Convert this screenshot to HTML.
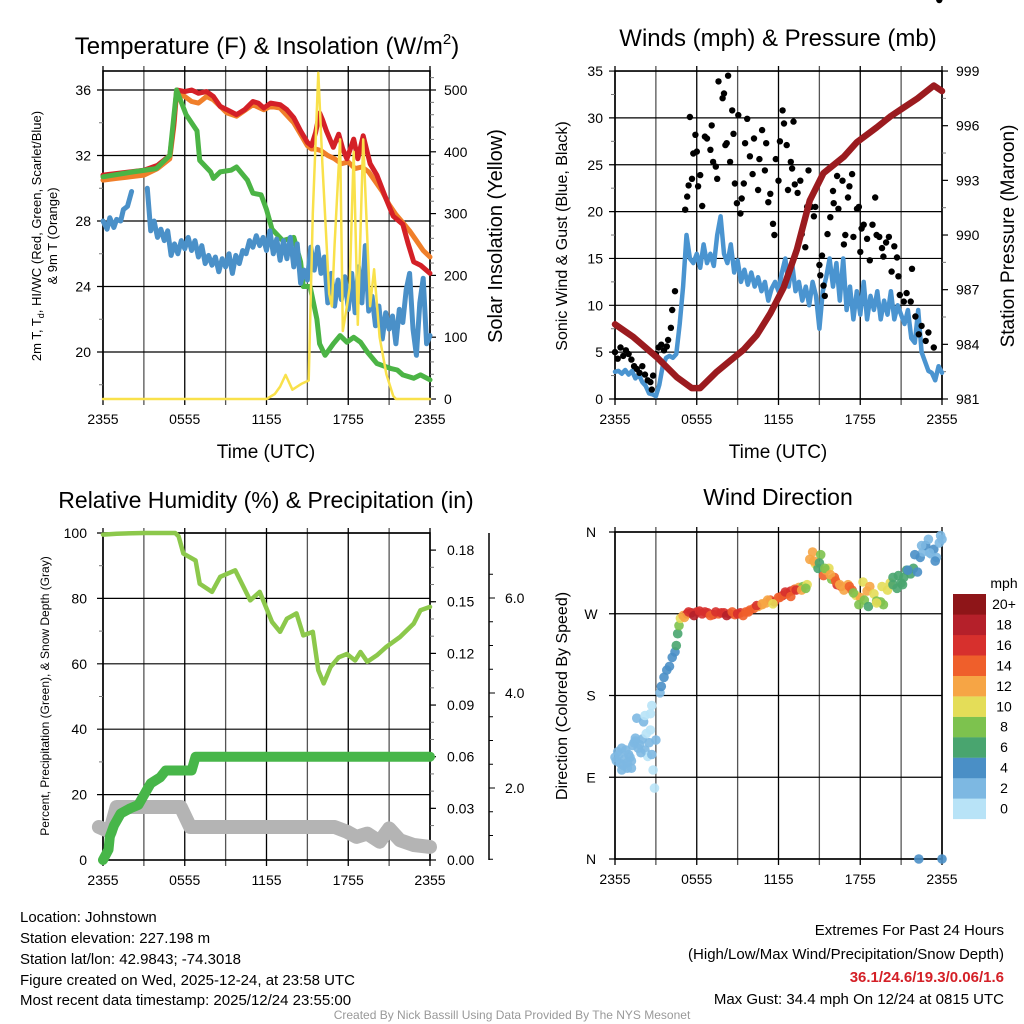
<!DOCTYPE html>
<html><head><meta charset="utf-8"><style>
html,body{margin:0;padding:0;background:#fff}
svg{display:block;font-family:"Liberation Sans",Arial,sans-serif}
</style></head><body>
<svg id="chart" width="1024" height="1024" viewBox="0 0 1024 1024">
<rect width="1024" height="1024" fill="#fff"/>
<g id="layer"></g>
<text x="267" y="54" font-size="24" text-anchor="middle">Temperature (F) &amp; Insolation (W/m<tspan font-size="15" dy="-10">2</tspan><tspan dy="10">)</tspan></text>
<text x="778" y="46" font-size="24" text-anchor="middle">Winds (mph) &amp; Pressure (mb)</text>
<text x="266" y="508" font-size="23" text-anchor="middle">Relative Humidity (%) &amp; Precipitation (in)</text>
<text x="778" y="505" font-size="23" text-anchor="middle">Wind Direction</text>
<text x="266" y="458" font-size="19" text-anchor="middle">Time (UTC)</text>
<text x="778" y="458" font-size="19" text-anchor="middle">Time (UTC)</text>
<text transform="translate(41,236) rotate(-90)" font-size="13" text-anchor="middle">2m T, T<tspan font-size="9" dy="3">d</tspan><tspan dy="-3">, HI/WC (Red, Green, Scarlet/Blue)</tspan></text>
<text transform="translate(57,236) rotate(-90)" font-size="13" text-anchor="middle">&amp; 9m T (Orange)</text>
<text transform="translate(502,236) rotate(-90)" font-size="20" text-anchor="middle">Solar Insolation (Yellow)</text>
<text transform="translate(567,236) rotate(-90)" font-size="16" text-anchor="middle">Sonic Wind &amp; Gust (Blue, Black)</text>
<text transform="translate(1014,236) rotate(-90)" font-size="19" text-anchor="middle">Station Pressure (Maroon)</text>
<text transform="translate(49,696) rotate(-90)" font-size="12" text-anchor="middle">Percent, Precipitation (Green), &amp; Snow Depth (Gray)</text>
<text transform="translate(567,696) rotate(-90)" font-size="16" text-anchor="middle">Direction (Colored By Speed)</text>
<text x="1004" y="588" font-size="14" text-anchor="middle">mph</text>
<g font-size="15">
<text x="20" y="922">Location: Johnstown</text>
<text x="20" y="943">Station elevation: 227.198 m</text>
<text x="20" y="964">Station lat/lon: 42.9843; -74.3018</text>
<text x="20" y="985">Figure created on Wed, 2025-12-24, at 23:58 UTC</text>
<text x="20" y="1005">Most recent data timestamp: 2025/12/24 23:55:00</text>
</g>
<g font-size="15" text-anchor="end">
<text x="1004" y="935">Extremes For Past 24 Hours</text>
<text x="1004" y="959">(High/Low/Max Wind/Precipitation/Snow Depth)</text>
<text x="1004" y="982" fill="#d42027" font-weight="bold">36.1/24.6/19.3/0.06/1.6</text>
<text x="1004" y="1004">Max Gust: 34.4 mph On 12/24 at 0815 UTC</text>
</g>
<text x="512" y="1019" font-size="12" fill="#999" text-anchor="middle">Created By Nick Bassill Using Data Provided By The NYS Mesonet</text>
</svg>
<script>
// ---------- data ----------
const xTickLabels = ["2355","0555","1155","1755","2355"];
// Panel 1 temperature (F), times in hours after 2355
const tRed = [0,1,2,3,4,4.9,5.2,5.4,6,6.5,7,7.6,8.1,8.6,9.1,9.8,10.4,11.0,11.4,11.8,12.3,13.0,13.5,14.0,14.5,15.0,15.3,15.6,15.9,16.1,16.4,16.9,17.3,17.6,17.9,18.4,18.7,19.1,19.6,20.1,20.8,21.3,22.0,22.4,22.8,23.3,24];
const red  = [30.8,30.9,31.0,31.1,31.4,32.0,34.0,36.0,35.9,36.0,35.8,35.9,35.6,35.0,34.8,34.5,34.8,35.3,35.2,34.9,35.2,35.1,34.8,34.3,33.5,32.8,32.6,33.4,34.6,34.2,33.5,32.5,33.3,32.4,31.8,33.0,31.8,33.2,31.5,30.8,29.3,28.3,27.8,26.6,25.5,25.3,24.8];
const tOrange = [0,1,2,3,4,4.9,5.2,5.4,6,6.5,7,7.6,8.1,9.1,9.8,11.0,11.8,12.3,13.0,14.0,15.0,15.3,15.6,16.0,16.5,17.0,17.5,18.0,18.5,19.0,19.5,20.0,20.5,21.0,21.5,22.0,22.5,23.0,23.5,24];
const orange  = [30.5,30.6,30.7,30.8,31.2,31.8,33.8,35.8,35.6,35.3,35.2,35.6,35.4,34.6,34.4,35.1,34.8,35.0,34.9,34.0,32.6,32.4,32.4,32.3,32.0,31.8,31.5,31.6,31.2,31.3,31.0,30.4,29.8,29.0,28.4,27.9,27.4,26.8,26.2,25.8];
const tGreen = [0,2.2,3.9,4.9,5.4,6.1,6.9,7.1,7.9,8.1,8.6,9.4,9.8,10.6,11.0,11.6,12.0,12.4,13.2,14.0,14.5,14.7,15.2,15.7,15.9,16.3,16.9,17.4,17.9,18.4,18.9,19.4,20.1,21.1,21.6,22.0,22.8,23.3,24];
const green  = [30.7,31.0,31.2,32.0,36.0,34.5,33.5,31.7,31.0,30.6,31.0,31.1,31.3,30.5,29.7,29.6,28.7,27.5,26.8,27.0,25.5,24.0,24.0,22.0,20.5,19.8,20.5,21.0,20.6,20.9,20.6,20.0,19.3,19.0,18.9,18.6,18.4,18.6,18.3];
const tBlueA = [0,0.3,0.5,0.8,1,1.3,1.5,1.8,2.1];
const blueA  = [28.0,27.5,28.2,27.6,28.1,28.0,28.7,28.9,29.8];
const tBlueB = [3.25,3.5,3.75,4,4.25,4.5,4.75,5,5.25,5.5,5.75,6,6.25,6.5,6.75,7,7.25,7.5,7.75,8,8.25,8.5,8.75,9,9.25,9.5,9.75,10,10.25,10.5,10.75,11,11.25,11.5,11.75,12,12.25,12.5,12.75,13,13.25,13.5,13.75,14,14.25,14.5,14.75,15,15.25,15.5,15.75,16,16.25,16.5,16.75,17,17.25,17.5,17.75,18,18.25,18.5,18.75,19,19.25,19.5,19.75,20,20.25,20.5,20.75,21,21.25,21.5,21.75,22,22.25,22.5,22.75,23,23.25,23.5,23.75,24];
const blueB  = [30.0,27.4,28.0,27.0,27.5,26.8,27.4,25.9,26.6,26.0,26.8,26.3,27.0,26.2,26.8,25.8,26.5,25.4,25.9,25.3,25.8,24.9,25.7,25.2,26.0,24.8,25.9,25.4,26.2,26.0,26.8,26.4,27.1,26.5,27.0,26.2,27.4,26.0,26.9,25.6,26.8,25.7,27.0,25.2,26.6,24.2,25.0,24.4,26.4,25.0,26.4,24.8,25.8,23.0,24.8,22.8,24.4,23.2,24.6,22.6,24.8,22.4,25.2,23.0,26.5,22.5,23.4,21.6,22.8,20.8,22.4,21.4,22.2,20.5,22.6,21.8,23.8,24.8,21.4,19.8,23.0,24.5,20.5,21.0];
const tSolar = [0,12.0,12.6,13.0,13.4,13.9,14.6,15.1,15.4,15.8,16.1,16.6,16.8,17.0,17.4,17.6,17.9,18.1,18.4,18.7,19.1,19.6,19.9,20.3,20.8,21.3,21.5,24];
const solar  = [0,0,8,20,39,15,25,30,300,528,380,170,150,250,420,110,150,180,400,120,420,150,210,100,40,5,0,0];
// Panel 2 winds (mph) and pressure (mb)
const tSonic = [0,0.25,0.5,0.75,1,1.25,1.5,1.75,2,2.25,2.5,2.75,3,3.25,3.5,3.75,4,4.25,4.5,4.75,5,5.25,5.5,5.75,6,6.25,6.5,6.75,7,7.25,7.5,7.75,8,8.25,8.5,8.75,9,9.25,9.5,9.75,10,10.25,10.5,10.75,11,11.25,11.5,11.75,12,12.25,12.5,12.75,13,13.25,13.5,13.75,14,14.25,14.5,14.75,15,15.25,15.5,15.75,16,16.25,16.5,16.75,17,17.25,17.5,17.75,18,18.25,18.5,18.75,19,19.25,19.5,19.75,20,20.25,20.5,20.75,21,21.25,21.5,21.75,22,22.25,22.5,22.75,23,23.25,23.5,23.75,24];
const sonic  = [2.9,3.0,2.7,3.1,2.6,3.0,2.2,2.6,1.8,1.4,0.6,0.5,0.3,1.5,3.5,4.4,4.6,4.4,4.8,8,12,17.5,15,14.5,15.5,14,16.5,14.5,15.5,14.2,17.5,19.5,15.5,14.5,16.5,13.5,14.8,12.5,13.8,12.2,13.5,12,13,11.5,12.5,10.5,11.8,12.5,11.5,13.5,15,12,14.5,11.5,12.5,10.5,12,10,12.5,11,7.5,11.5,13,15,12,14.5,10.5,15,9.5,12,8.5,11.5,9,12.5,8.5,11,9.5,11.5,8.5,10.5,9,11.5,8.5,10,9,8,9.5,6.5,6,9.5,5,4,3,2.8,2,3.5,2.8];
const tGust = [0,0.2,0.4,0.6,0.8,1.0,1.2,1.4,1.6,1.8,2.0,2.2,2.4,2.6,2.7,2.8,3.0,3.2,3.4,3.6,3.8,3.9,4.1,4.2,4.4,5.15,5.3,5.4,5.5,5.65,5.75,5.9,6.0,6.1,6.25,6.4,6.6,6.75,7,7.1,7.2,7.4,7.5,7.6,7.9,8.0,8.1,8.2,8.3,8.45,8.6,8.7,8.8,8.95,9.05,9.2,9.3,9.45,9.55,9.7,9.9,10.1,10.2,10.5,10.6,10.8,11.0,11.1,11.25,11.4,11.6,11.7,11.8,12.0,12.1,12.3,12.4,12.6,12.7,12.9,13.0,13.1,13.2,13.4,13.6,13.7,13.97,14.1,14.2,14.4,14.6,14.7,15.0,15.07,15.19,15.3,15.4,15.6,15.8,16.0,16.05,16.3,16.4,16.7,16.8,16.9,17.1,17.2,17.4,17.5,17.76,17.9,18.0,18.1,18.25,18.5,18.7,18.9,19.1,19.2,19.4,19.6,19.7,19.9,20.1,20.3,20.5,20.7,20.8,20.9,21.2,21.4,21.7,21.8,22.05,22.3,22.5,22.8,23.0,23.4,23.8];
const gust  = [5,4.3,5.5,4.6,5.2,4.8,4.2,3.5,3.2,2.8,3.5,2.6,2.0,1.8,1.0,2.5,4.8,5.5,5.8,5.2,5.6,6.3,7.6,9.5,11.5,20.2,21.6,22.8,30.1,23.5,26.2,28.2,26.4,22.7,23.9,20.6,28,27.8,26.6,29.2,25.3,24.8,23.5,33.9,32.1,32.6,27.1,27.3,34.5,25.3,30.8,28.3,23,20.9,30.3,19.8,21.4,23,27.3,29.9,25.9,24,27.8,22.3,25.6,28.7,24.4,27.3,21,21.9,18.7,17.5,25.6,23.3,27.5,30.8,29.4,27.1,22.3,25.3,24.6,29.6,22.9,22,23.3,17.6,16.2,20.5,24.4,20.5,19.5,20.5,14.3,13.2,15.3,12.1,11.0,17.6,19.4,22.2,20.9,23.8,20.3,23.3,16.5,17.5,21.5,22.7,24,17.3,20.3,20.5,15.7,18.2,18.6,17.1,14.8,18.6,21.5,17.5,17.3,16.1,15.2,16.7,17.3,13.6,16.3,15.1,13.1,11.1,10.4,11.3,10.4,13.9,8.8,6.9,7.8,6.2,7.1,5.5];
const tPress = [0,1.35,3.06,4.53,5.64,6.25,7.47,8.45,9.43,10.4,11.4,12.37,13.35,14.3,15.3,16.8,17.76,19.2,20.2,21.2,22.2,23.4,24];
const press  = [985.1,984.4,983.3,982.2,981.6,981.6,982.5,983.1,983.7,984.5,985.7,987.1,989.2,991.9,993.4,994.3,995.1,995.9,996.5,997.0,997.5,998.2,997.9];
// Panel 3 humidity (%), precipitation (in), snow depth (in)
const tRH = [0,1,3,5.3,5.55,5.9,6.8,7.1,8.0,8.6,9.7,10.8,11.5,12.4,13.0,13.5,14.2,14.7,15.4,15.8,16.2,16.7,17.3,17.9,18.5,18.9,19.4,20.1,20.8,21.8,22.8,23.3,24];
const rh  = [99.5,99.8,100,100,99,93.7,91.6,84.5,82,86.6,88.6,79.4,82,72.8,69.8,73.8,75.4,68.7,69.8,58,54,59,62,63,61,63.6,60.6,62.6,65.2,68.2,72.3,76.4,77.4];
const tPrecip = [0,0.4,0.5,0.8,1.3,2.0,2.6,3.1,3.5,4.2,4.6,5.7,6.5,6.8,24];
const precip  = [0,0.006,0.0135,0.020,0.027,0.030,0.032,0.039,0.0445,0.048,0.052,0.052,0.052,0.06,0.06];
const tSnow = [-0.3,0.5,1.0,5.7,6.4,17.0,17.9,18.6,19.4,20.3,21.0,21.8,22.8,24];
const snow  = [1.18,1.08,1.6,1.6,1.18,1.18,1.08,0.97,1.04,0.87,1.15,0.9,0.8,0.76];
// Panel 4 wind direction (deg) colored by speed (mph)
const tDir = [0.0,0.2,0.4,0.5,0.7,0.9,1.0,1.2,1.4,1.5,1.6,1.8,2.0,2.1,2.2,2.4,2.6,2.7,2.8,2.9,3.0,3.3,3.4,3.6,3.8,4.0,4.2,4.4,4.5,4.6,4.7,4.8,5.0,5.3,5.6,6.0,6.4,6.8,7.2,7.6,8.0,8.4,8.8,9.2,9.6,9.9,10.2,10.5,10.8,11.1,11.4,11.7,12.0,12.3,12.6,12.9,13.2,13.5,13.8,14.1,14.3,14.5,14.7,14.9,15.1,15.3,15.5,15.7,15.9,16.1,16.3,16.6,16.8,17.1,17.4,17.7,18.0,18.2,18.5,18.7,19.0,19.2,19.5,19.7,20.0,20.2,20.4,20.7,21.0,21.2,21.4,21.7,21.9,22.2,22.4,22.6,22.8,23.0,23.2,23.4,23.6,23.8,24.0,22.3,24.0,
  0.1,0.3,0.6,0.8,1.1,1.3,1.5,1.7,1.9,0.5,0.9,1.2,2.3,2.5,2.7,2.2,2.6,
  5.1,5.4,5.8,6.2,6.6,7.0,7.4,7.8,8.2,8.6,9.0,9.4,9.8,10.4,10.8,11.2,11.6,12.1,12.5,12.9,13.3,13.7,14.0,
  14.6,15.0,15.4,15.8,16.2,16.5,17.2,17.5,17.9,18.3,18.6,19.2,19.6,20.4,20.8,21.1,21.5,22.0,22.5,23.1,23.5,23.9];
const dir  = [112,118,105,122,110,100,115,108,128,130,155,126,132,151,120,113,142,169,98,78,131,183,190,200,208,212,222,228,235,248,257,265,268,270,271,272,270,271,269,270,271,270,269,271,272,274,276,278,280,282,285,283,288,290,292,295,297,299,300,302,330,338,325,320,335,312,318,320,308,310,302,300,296,302,296,290,288,305,295,300,292,284,283,280,296,304,302,298,304,310,318,314,320,316,332,338,345,352,336,341,332,348,352,0,0,
  108,115,103,120,112,125,133,122,117,98,106,100,138,128,115,158,160,
  266,272,268,273,272,268,272,271,268,272,270,268,272,279,281,285,281,288,294,289,296,296,298,
  328,326,320,313,306,302,300,293,280,285,278,282,300,310,312,302,318,335,345,337,328,356];
const dirSpd = [2.5,2.8,3,2.5,3,2.2,3,2.6,2.5,3,2.4,2.8,3,2.5,2.4,1.5,1.2,1.5,1.5,1.2,2,2,4.5,5,5,5,5,4.5,6,7,9,11,12,17,18,17,16,17,16,15,17,16,14,16,15,14,14,13,12,13,14,16,15,17,14,16,14,13,9,11,12,13,11,7,8,14,12,10,9,14,16,14,13,12,14,11,13,11,12,13,10,9,8,8,11,10,7,7,6,6,7,6,7,5,4,3,4,2,3,4,3,2,3,4,4,
  3,2.5,3,3,2.5,3,2.5,2.7,3,2.5,2.8,2.5,1.5,2.4,2,1,1.2,
  13,17,18,16,17,15,16,17,18,15,16,15,14,16,12,13,10,14,17,15,16,13,8,
  12,7,9,13,15,12,14,9,9,8,7,10,11,7,6,7,5,4,3,3,4,2];
const speedColors = ["#b8e3f7","#7db8e2","#4a8fc6","#49a56f","#7dc24e","#e4dd58","#f6a545","#ef5f2b","#d7302d","#b5202a","#8e1518"];
const speedLabels = ["0","2","4","6","8","10","12","14","16","18","20+"];

// ---------- helpers ----------
const NS = "http://www.w3.org/2000/svg";
const layer = document.getElementById("layer");
function mk(tag, attrs, parent){
  const e = document.createElementNS(NS, tag);
  for (const k in attrs) e.setAttribute(k, attrs[k]);
  (parent||layer).appendChild(e);
  return e;
}
function panel(L,R,T,B){ return {L,R,T,B,x:t=>L+(t/24)*(R-L)}; }
const P1 = panel(103,430,71,399), P2 = panel(615,942,71,399), P3 = panel(103,430,533,860), P4 = panel(615,942,532,859);
const yTemp = v => 90 + (36 - v) * 16.375;
const ySolar = w => 399 - w * 0.618;
const yWind = v => 399 - v * 9.37;
const yPress = mb => 399 - (mb - 981) * 18.22;
const yRH = v => 860 - v * 3.27;
const yPrecip = v => 860 - v * 1721.7;
const ySnow = v => 883 - 47.5 * v;
const yDir = d => 859 - d / 360 * 327;

function frame(P, name, hGridVals, yFn){
  const g = mk("g", {});
  
  
  for (let i = 0; i <= 8; i++) {
    const x = P.L + i * (P.R - P.L) / 8;
    const ln = mk("line", {x1:x,x2:x,y1:P.T-5,y2:P.B+6,stroke:(i%2?"#555":"#000"),"stroke-width":1.3}, g);
    
    
  }
  hGridVals.forEach(v => {
    const y = yFn(v);
    const ln = mk("line", {x1:P.L-6,x2:P.R,y1:y,y2:y,stroke:"#000","stroke-width":1.2}, g);
    
    
  });
  const bx = mk("rect", {x:P.L,y:P.T,width:P.R-P.L,height:P.B-P.T,fill:"none",stroke:"#000","stroke-width":1.6}, g);
  
  
  xTickLabels.forEach((lab, i) => {
    const t = mk("text", {x:P.x(i*6), y:P.B+25, "font-size":14, "text-anchor":"middle"}, g);
    t.textContent = lab;
    
    
  });
}
function yAxisLabels(P, vals, yFn, side, fmt, name, xOff){
  vals.forEach(v => {
    const y = yFn(v);
    const x = side === "left" ? P.L - (xOff||8) : P.R + (xOff||12);
    if (side === "right") mk("line", {x1:P.R,x2:P.R+6,y1:y,y2:y,stroke:"#000","stroke-width":1.2});
    const t = mk("text", {x:x, y:y+5, "font-size":14, "text-anchor": side === "left" ? "end" : "start"});
    t.textContent = fmt(v);
    
    
  });
}
function minor(P, vals, yFn, side){
  vals.forEach(v => { const y=yFn(v); const x = side==="left"?P.L:P.R;
    mk("line",{x1:x,x2:side==="left"?x-4:x+4,y1:y,y2:y,stroke:"#777","stroke-width":1}); });
}
function line(P, ts, vs, yFn, color, w, name){
  const pts = ts.map((t,i)=>P.x(t).toFixed(1)+","+yFn(vs[i]).toFixed(1)).join(" ");
  const e = mk("polyline", {points:pts, fill:"none", stroke:color, "stroke-width":w, "stroke-linejoin":"round", "stroke-linecap":"round"});
  
  
  return e;
}
function rng(a,b,s){ const r=[]; for(let v=a; v<=b+1e-9; v+=s) r.push(+v.toFixed(4)); return r; }

// ---------- panel 1 ----------
frame(P1, "temperature", [20,24,28,32,36], yTemp);
minor(P1, [18,22,26,30,34], yTemp, "left");
minor(P1, rng(20,520,20).filter(v=>v%100), ySolar, "right");
yAxisLabels(P1, [20,24,28,32,36], yTemp, "left", v=>String(v), "temperature-y-tick-label", 12);
yAxisLabels(P1, [0,100,200,300,400,500], ySolar, "right", v=>String(v), "insolation-y-tick-label", 14);
line(P1, tOrange, orange, yTemp, "#f07f2a", 5, "series-9m-temperature");
line(P1, tRed, red, yTemp, "#d42027", 5, "series-2m-temperature");
line(P1, tGreen, green, yTemp, "#4bb445", 5, "series-dewpoint");
line(P1, tBlueA, blueA, yTemp, "#4a90c8", 5, "series-wind-chill");
line(P1, tBlueB, blueB, yTemp, "#4a90c8", 5, "series-wind-chill");
line(P1, tSolar, solar, ySolar, "#f9e14b", 2.5, "series-solar-insolation");

// ---------- panel 2 ----------
frame(P2, "winds", [0,5,10,15,20,25,30,35], yWind);
minor(P2, rng(2.5,32.5,5), yWind, "left");
minor(P2, rng(982.5,997.5,3), yPress, "right");
yAxisLabels(P2, [0,5,10,15,20,25,30,35], yWind, "left", v=>String(v), "wind-y-tick-label", 12);
yAxisLabels(P2, [981,984,987,990,993,996,999], yPress, "right", v=>String(v), "pressure-y-tick-label", 14);
line(P2, tSonic, sonic, yWind, "#4a94d0", 4.5, "series-sonic-wind");
tGust.forEach((t,i)=>{
  const c = mk("circle",{cx:P2.x(t).toFixed(1), cy:yWind(gust[i]).toFixed(1), r:3.2, fill:"#000"});
  
  
});
line(P2, tPress, press, yPress, "#9b1b1f", 6.5, "series-station-pressure");

// ---------- panel 3 ----------
frame(P3, "humidity", [20,40,60,80,100], yRH);
minor(P3, [10,30,50,70,90], yRH, "left");
yAxisLabels(P3, [0,20,40,60,80,100], yRH, "left", v=>String(v), "humidity-y-tick-label", 16);
minor(P3, rng(0.01,0.18,0.01), yPrecip, "right");
yAxisLabels(P3, [0,0.03,0.06,0.09,0.12,0.15,0.18], yPrecip, "right", v=>v.toFixed(2), "precip-y-tick-label", 17);
(function(){
  const ax = mk("line",{x1:489,x2:489,y1:533,y2:860,stroke:"#000","stroke-width":1.5});
  
  
  rng(0.5,6.5,0.5).forEach(v=>{ const y=ySnow(v); if(y<535||y>860) return;
    mk("line",{x1:489,x2:v%2===0?495:493,y1:y,y2:y,stroke:"#000","stroke-width":1});
    if (v%2===0){ const t=mk("text",{x:505,y:y+5,"font-size":14}); t.textContent=v.toFixed(1);
      
       }
  });
})();
line(P3, tSnow, snow, ySnow, "#b4b4b4", 14, "series-snow-depth");
line(P3, tPrecip, precip, yPrecip, "#47b649", 10, "series-precipitation");
line(P3, tRH, rh, yRH, "#8cc84b", 4.5, "series-relative-humidity");

// ---------- panel 4 ----------
frame(P4, "direction", [0,90,180,270,360], yDir);
["N","E","S","W","N"].forEach((lab,i)=>{
  const t = mk("text",{x:P4.L-24, y:yDir(i*90)+5, "font-size":14, "text-anchor":"middle"});
  t.textContent = lab;
  
  
});
function spdColor(s){ return speedColors[Math.min(10, Math.max(0, Math.floor(s/2)))]; }
tDir.forEach((t,i)=>{
  const c = mk("circle",{cx:P4.x(t).toFixed(1), cy:yDir(dir[i]).toFixed(1), r:4.8, fill:spdColor(dirSpd[i]), "fill-opacity":0.9});
  
  
});
speedColors.forEach((col,i)=>{
  const y = 594 + (10-i)*20.45;
  const r = mk("rect",{x:953,y:y.toFixed(1),width:33,height:20.6,fill:col});
  
  
  const t = mk("text",{x:1004,y:(y+15).toFixed(1),"font-size":14,"text-anchor":"middle"});
  t.textContent = speedLabels[i];
  
  
});
</script>
</body></html>
